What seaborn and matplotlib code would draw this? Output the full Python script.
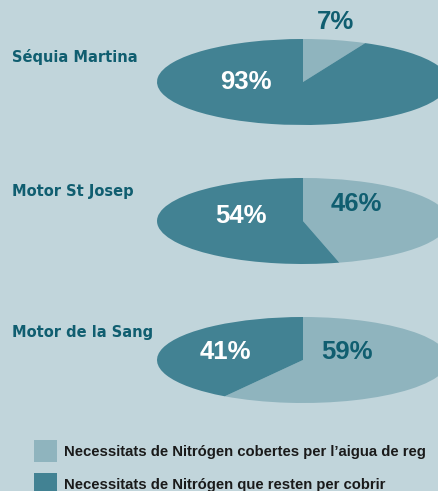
import matplotlib
matplotlib.use("Agg")
import matplotlib.pyplot as plt
import seaborn as sns

# data
llocs = ["Séquia Martina", "Motor St Josep", "Motor de la Sang"]
cobertes = [7, 46, 59]      # % cobert per l'aigua de reg
resten = [93, 54, 41]       # % que resta per cobrir
llegenda = ["Necessitats de Nitrógen cobertes per l\u2019aigua de reg",
            "Necessitats de Nitrógen que resten per cobrir"]

bg = "#c1d5db"
clar = "#8fb4be"
fosc = "#428293"
txt = "#105e70"

sns.set_theme(style="white", rc={"figure.facecolor": bg, "axes.facecolor": bg})
plt.rcParams["font.family"] = ["Liberation Sans", "DejaVu Sans"]

W, H = 438, 491
fig = plt.figure(figsize=(W / 100, H / 100), dpi=100)

centres_y = [82, 221, 360]          # centre de cada pastís (px)
nom_y = [57, 191, 332]              # posició dels noms (px)
# posició de les etiquetes en coordenades del pastís: (clar, fosc)
pos_clar = [(0.226, 1.40), (0.363, 0.40), (0.30, 0.19)]
pos_fosc = [(-0.39, 0.0), (-0.425, 0.12), (-0.534, 0.19)]

cx, rx, ry = 303, 146, 43
wedges = None
for i, nom in enumerate(llocs):
    cy = centres_y[i]
    ax = fig.add_axes([(cx - rx) / W, 1 - (cy + ry) / H, 2 * rx / W, 2 * ry / H])
    w, _ = ax.pie([cobertes[i], resten[i]], colors=[clar, fosc], startangle=90,
                  counterclock=False, radius=1, wedgeprops=dict(linewidth=0))
    ax.set_aspect("auto")
    ax.set_xlim(-1, 1)
    ax.set_ylim(-1, 1)
    ax.axis("off")
    if wedges is None:
        wedges = w
    ax.text(*pos_clar[i], f"{cobertes[i]}%", color=txt, fontsize=18.5, fontweight="bold",
            ha="center", va="center", clip_on=False)
    ax.text(*pos_fosc[i], f"{resten[i]}%", color="white", fontsize=18.5, fontweight="bold",
            ha="center", va="center", clip_on=False)
    fig.text(12 / W, 1 - nom_y[i] / H, nom, color=txt, fontsize=10.5, fontweight="heavy",
             family="DejaVu Sans", ha="left", va="center")

fig.legend(wedges, llegenda, loc="upper left", bbox_to_anchor=(34 / W, 1 - 440 / H),
           frameon=False, prop={"weight": "bold", "size": 10.7},
           handlelength=1.55, handleheight=1.85, handletextpad=0.45,
           labelspacing=0.8, borderpad=0, borderaxespad=0, labelcolor="#1a1a1a")

fig.savefig("out.png", dpi=100, facecolor=bg)
